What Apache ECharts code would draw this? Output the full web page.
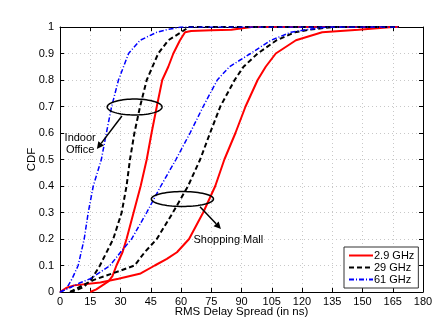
<!DOCTYPE html>
<html><head><meta charset="utf-8">
<script src="https://cdn.jsdelivr.net/npm/echarts@6/dist/echarts.min.js"></script>
<style>html,body{margin:0;padding:0;background:#fff;overflow:hidden}#c{width:436px;height:319px}</style>
</head><body><div id="c"></div>
<script>
// Tick labels
var xTicks = [0,15,30,45,60,75,90,105,120,135,150,165,180];
var yTicks = [0,0.1,0.2,0.3,0.4,0.5,0.6,0.7,0.8,0.9,1];
var seriesNames = ['2.9 GHz','29 GHz','61 GHz'];
// Indoor Office: [RMS delay spread (ns), CDF]
var indoor29 = [[15,0],[18,0.01],[21,0.025],[24,0.04],[26,0.06],[28,0.1],[31,0.15],[33,0.2],[36.5,0.3],[40,0.4],[43,0.5],[45.4,0.6],[48,0.7],[50.7,0.8],[53.7,0.85],[56.2,0.9],[59.5,0.95],[62,0.98],[65,0.985],[75,0.988],[85,0.99],[95,1],[168,1]];
var indoor290 = [[5,0],[9,0.01],[12,0.02],[15.7,0.05],[19.8,0.1],[26.4,0.2],[30.6,0.3],[33,0.4],[34.7,0.5],[36.9,0.6],[39.7,0.7],[43,0.8],[48.7,0.9],[53.7,0.95],[60,0.98],[64,1],[168,1]];
var indoor610 = [[0,0],[3,0.01],[6,0.05],[9,0.1],[12,0.2],[14,0.3],[16.5,0.4],[20.5,0.5],[23,0.6],[25.6,0.7],[29,0.8],[34,0.9],[39.7,0.95],[48,0.98],[53,0.99],[60,1],[168,1]];
// Shopping Mall
var mall29 = [[0,0],[3,0.015],[7,0.025],[20,0.036],[29,0.05],[40,0.07],[47,0.1],[53,0.125],[58,0.15],[64,0.2],[71,0.3],[77,0.4],[81.5,0.5],[87,0.6],[92,0.7],[98,0.8],[102,0.85],[107,0.9],[117,0.95],[130,0.98],[148,0.99],[165,1],[168,1]];
var mall290 = [[5,0],[10,0.02],[16.5,0.045],[26,0.07],[37,0.1],[42,0.15],[48,0.2],[56,0.3],[63.5,0.4],[69.5,0.5],[74.4,0.6],[79.5,0.7],[86.6,0.8],[91,0.85],[98,0.9],[107.4,0.95],[116.5,0.98],[124,0.99],[135,1],[168,1]];
var mall610 = [[0,0],[3,0.01],[6,0.02],[10,0.035],[15,0.05],[20,0.075],[24.8,0.1],[30,0.15],[35.5,0.2],[43,0.3],[50,0.4],[57.5,0.5],[64.5,0.6],[71,0.7],[78,0.8],[84,0.85],[94.5,0.9],[104.6,0.95],[114.5,0.98],[122,0.99],[133,1],[168,1]];

var FONT = 'Liberation Sans';
var red = {color:'#ff0000', width:2, type:'solid'};
var blk = {color:'#000000', width:2, type:[5,3]};
var blu = {color:'#0000ff', width:1.5, type:[5,2,1,2]};
function ser(name, data, ls){
  return {name:name, type:'line', data:data, showSymbol:false, symbol:'none', smooth:false,
    lineStyle:ls, itemStyle:{color:ls.color}, z: 3, animation:false};
}
var chart = echarts.init(document.getElementById('c'), null, {renderer:'canvas', width:436, height:319});
var axisCommon = {
  type:'value', axisLine:{show:true, onZero:false, lineStyle:{color:'#000', width:1}},
  axisTick:{show:true, inside:true, length:4, lineStyle:{color:'#000'}},
  axisLabel:{color:'#000', fontFamily:FONT, fontSize:11},
  splitLine:{show:false}
};
chart.setOption({
  animation:false,
  backgroundColor:'#fff',
  grid:{left:60, right:13, top:27, bottom:27, containLabel:false, outerBoundsMode:'none'},
  xAxis:[
    Object.assign({}, axisCommon, {min:0, max:180, interval:15, position:'bottom',
      name:'RMS Delay Spread (in ns)', nameLocation:'middle', nameGap:14, nameMoveOverlap:false,
      nameTextStyle:{color:'#000', fontFamily:FONT, fontSize:11.5},
      axisLabel:{color:'#000', fontFamily:FONT, fontSize:11, margin:4},
      splitLine:{show:true, lineStyle:{color:'#c8c8c8', type:[1,3], width:1}}}),
    Object.assign({}, axisCommon, {min:0, max:180, interval:15, position:'top', axisLabel:{show:false}})
  ],
  yAxis:[
    Object.assign({}, axisCommon, {min:0, max:1, interval:0.1, position:'left',
      name:'CDF', nameLocation:'middle', nameGap:22, nameRotate:90, nameMoveOverlap:false,
      nameTextStyle:{color:'#000', fontFamily:FONT, fontSize:11.5},
      axisLabel:{color:'#000', fontFamily:FONT, fontSize:11, margin:6,
        formatter:function(v){return String(Math.round(v*10)/10);}},
      splitLine:{show:true, lineStyle:{color:'#c8c8c8', type:[1,3], width:1}}}),
    Object.assign({}, axisCommon, {min:0, max:1, interval:0.1, position:'right', axisLabel:{show:false}})
  ],
  legend:{
    data:seriesNames, orient:'vertical', left:344, top:247, width:70,
    backgroundColor:'#fff', borderColor:'#333', borderWidth:1, padding:[3,4,3,4],
    itemGap:1, itemWidth:24, itemHeight:10, itemStyle:{opacity:0},
    textStyle:{color:'#000', fontFamily:FONT, fontSize:11, padding:[0,0,0,-4]}
  },
  series:[
    ser(seriesNames[0], indoor29, red), ser(seriesNames[1], indoor290, blk), ser(seriesNames[2], indoor610, blu),
    ser(seriesNames[0], mall29, red), ser(seriesNames[1], mall290, blk), ser(seriesNames[2], mall610, blu)
  ]
});

// Annotations positioned in data coordinates
function px(p){ return chart.convertToPixel({gridIndex:0}, p); }
function ellipse(c, rxData, ryData){
  var cp = px(c), ep = px([c[0]+rxData, c[1]+ryData]);
  var rx = Math.abs(ep[0]-cp[0]), ry = Math.abs(ep[1]-cp[1]);
  var pts = [];
  for (var i=0;i<72;i++){ var a = i/72*2*Math.PI; pts.push([cp[0]+rx*Math.cos(a), cp[1]+ry*Math.sin(a)]); }
  return {type:'polygon', shape:{points:pts}, style:{fill:null, stroke:'#000', lineWidth:1.5}, z:10};
}
function arrow(a, b){
  var p0 = px(a), p1 = px(b);
  var dx = p1[0]-p0[0], dy = p1[1]-p0[1], L = Math.sqrt(dx*dx+dy*dy), ux = dx/L, uy = dy/L;
  var h = 7, w = 3.5;
  var bx = p1[0]-ux*h, by = p1[1]-uy*h;
  return [
    {type:'line', shape:{x1:p0[0], y1:p0[1], x2:bx, y2:by}, style:{stroke:'#000', lineWidth:1.5}, z:10},
    {type:'polygon', shape:{points:[[p1[0],p1[1]],[bx-uy*w, by+ux*w],[bx+uy*w, by-ux*w]]}, style:{fill:'#000'}, z:10}
  ];
}
function label(p, txt){
  var q = px(p);
  return {type:'text', x:q[0], y:q[1], style:{text:txt, fill:'#000', font:'11px "Liberation Sans"', textAlign:'center', textVerticalAlign:'middle'}, z:10};
}
var g = [];
g.push(ellipse([37,0.698], 13.6, 0.03));
g.push(ellipse([60.7,0.351], 15.4, 0.028));
g = g.concat(arrow([30.7,0.664],[18.3,0.54]));
g = g.concat(arrow([69.4,0.322],[79.8,0.238]));
g.push(label([10,0.58],'Indoor'));
g.push(label([10,0.535],'Office'));
g.push(label([83.5,0.196],'Shopping Mall'));
chart.setOption({graphic:g});
</script></body></html>
